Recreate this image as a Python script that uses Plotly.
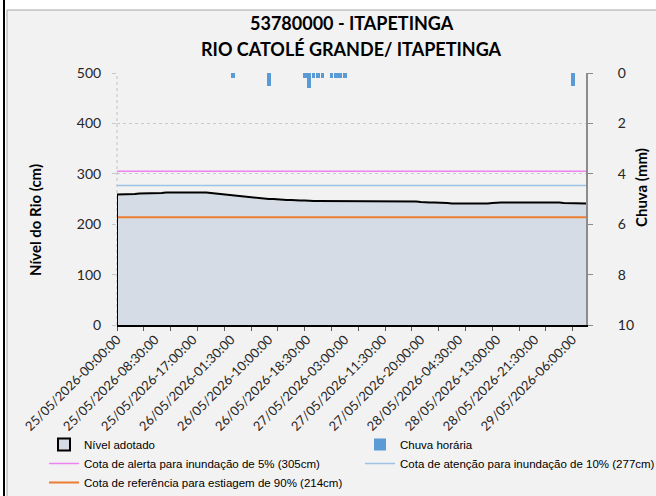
import plotly.graph_objects as go
import pandas as pd

# ---------------- data ----------------
t_start = "2026-05-25 00:00"

# hourly river level (cm) from 25/05 00:00
level_cm = [
    259, 259, 260, 260, 260, 261,
    261, 261, 262, 262, 262, 263,
    263, 263, 264, 264, 264, 264,
    264, 263, 263, 262, 261, 260,
    259, 258, 257, 256, 255, 254,
    253, 252, 251, 251, 250, 250,
    249, 249, 248, 248, 247, 247,
    247, 246, 246, 246, 246, 246,
    245, 245, 245, 245, 245, 245,
    245, 245, 245, 246, 246, 246,
    246, 246, 246, 246, 246, 246,
    245, 245, 244, 243, 243, 243,
    243, 242, 242, 241, 241, 240,
    240, 240, 240, 240, 240, 241,
    242, 243, 243, 243, 243, 243,
    243, 243, 243, 244, 244, 244,
    244, 244, 244, 243, 242, 242,
    241, 241, 241, 241,
]

rain_times = [
    "2026-05-26 02:00", "2026-05-26 10:00",
    "2026-05-26 18:00", "2026-05-26 19:00", "2026-05-26 20:00",
    "2026-05-26 21:00", "2026-05-26 22:00",
    "2026-05-27 00:00", "2026-05-27 01:00", "2026-05-27 02:00",
    "2026-05-27 03:00", "2026-05-29 06:00",
]
rain_mm = [0.2, 0.5, 0.2, 0.6, 0.2, 0.2, 0.2, 0.2, 0.2, 0.2, 0.2, 0.5]

alert_cm = 305
attention_cm = 277
drought_cm = 214

level_name = "Nível adotado"
rain_name = "Chuva horária"
alert_name = "Cota de alerta para inundação de 5% (305cm)"
attention_name = "Cota de atenção para inundação de 10% (277cm)"
drought_name = "Cota de referência para estiagem de 90% (214cm)"

title_1 = "53780000 - ITAPETINGA"
title_2 = "RIO CATOLÉ GRANDE/ ITAPETINGA"
y_title = "Nível do Rio (cm)"
y2_title = "Chuva (mm)"

label_times = pd.date_range(t_start, periods=13, freq="510min")
tick_text = [t.strftime("%d/%m/%Y-%H:%M:%S") for t in label_times]
level_times = pd.date_range(t_start, periods=len(level_cm), freq="h")

# ---------------- layout helpers ----------------
W, H = 656, 496
L, R, T, B = 117, 70, 73, 171
PW, PH = W - L - R, H - T - B


def px2x(px):
    return (px - L) / PW


def py2y(py):
    return (H - B - py) / PH


fig = go.Figure()

fig.add_trace(go.Scatter(
    x=level_times, y=level_cm, mode="lines", name=level_name,
    fill="tozeroy", fillcolor="#d6dce5",
    line=dict(color="black", width=2), showlegend=False,
))
# legend entry for the level area (box symbol)
fig.add_trace(go.Bar(
    x=[None], y=[None], name=level_name,
    marker=dict(color="#d6dce5", line=dict(color="black", width=2)),
    legend="legend",
))
fig.add_trace(go.Bar(
    x=pd.to_datetime(rain_times), y=rain_mm, name=rain_name, yaxis="y2",
    marker=dict(color="#5b9bd5", line=dict(width=0)),
    width=0.85 * 3600000, legend="legend2",
))
fig.add_trace(go.Scatter(
    x=[level_times[0], level_times[-1]], y=[alert_cm, alert_cm],
    mode="lines", name=alert_name, line=dict(color="#ee82ee", width=1.5),
    legend="legend",
))
fig.add_trace(go.Scatter(
    x=[level_times[0], level_times[-1]], y=[attention_cm, attention_cm],
    mode="lines", name=attention_name, line=dict(color="#9dc3e6", width=1.5),
    legend="legend2",
))
fig.add_trace(go.Scatter(
    x=[level_times[0], level_times[-1]], y=[drought_cm, drought_cm],
    mode="lines", name=drought_name, line=dict(color="#ed7d31", width=2),
    legend="legend",
))

shapes = [
    dict(type="rect", xref="paper", yref="paper",
         x0=px2x(7), x1=px2x(W + 20), y0=py2y(H + 20), y1=py2y(10),
         fillcolor="#f2f2f2", line=dict(color="#a6a6a6", width=1), layer="below"),
    dict(type="line", xref="paper", yref="paper",
         x0=px2x(4), x1=px2x(4), y0=py2y(H + 5), y1=py2y(-5),
         line=dict(color="black", width=2)),
    dict(type="line", xref="paper", yref="paper", x0=0, x1=0, y0=0, y1=1,
         line=dict(color="#bfbfbf", width=1, dash="dot")),
    dict(type="line", xref="x", yref="y",
         x0=level_times[0], x1=level_times[0], y0=0, y1=level_cm[0],
         line=dict(color="black", width=2)),
]

font_main = "Lato, 'Open Sans', sans-serif"
font_leg = "'Liberation Sans', Arial, sans-serif"

annotations = [
    dict(text="<b>" + title_1 + "</b>", xref="paper", yref="paper",
         x=0.5, y=py2y(23), showarrow=False, xanchor="center", yanchor="middle",
         font=dict(family=font_main, size=18, color="black")),
    dict(text="<b>" + title_2 + "</b>", xref="paper", yref="paper",
         x=0.5, y=py2y(49), showarrow=False, xanchor="center", yanchor="middle",
         font=dict(family=font_main, size=18, color="black")),
    dict(text="<b>" + y_title + "</b>", xref="paper", yref="paper",
         x=px2x(35), y=py2y(220), showarrow=False, textangle=-90,
         xanchor="center", yanchor="middle",
         font=dict(family=font_main, size=15, color="black")),
    dict(text="<b>" + y2_title + "</b>", xref="paper", yref="paper",
         x=px2x(641), y=py2y(188), showarrow=False, textangle=-90,
         xanchor="center", yanchor="middle",
         font=dict(family=font_main, size=15, color="black")),
]

fig.update_layout(
    width=W, height=H,
    margin=dict(l=L, r=R, t=T, b=B, autoexpand=False),
    paper_bgcolor="white", plot_bgcolor="white",
    shapes=shapes, annotations=annotations,
    bargap=0, showlegend=True,
    xaxis=dict(
        type="date",
        range=[level_times[0], level_times[-1]],
        tickmode="array", tickvals=label_times, ticktext=tick_text,
        tickangle=-45, ticks="", showgrid=False, zeroline=False,
        showline=True, linecolor="black", linewidth=2,
        tickfont=dict(family=font_main, size=13, color="#262626"),
        minor=dict(ticks="outside", ticklen=4, tickcolor="#595959",
                   tickwidth=1, dtick=6 * 3600000, tick0=t_start, showgrid=False),
    ),
    yaxis=dict(
        range=[0, 500], tickmode="linear", tick0=0, dtick=100,
        showgrid=True, gridcolor="#c8c8c8", griddash="dot", gridwidth=1,
        zeroline=False, showline=False,
        ticks="outside", ticklen=4, tickcolor="#c8c8c8",
        ticklabelstandoff=8,
        tickfont=dict(family=font_main, size=14, color="#262626"),
    ),
    yaxis2=dict(
        overlaying="y", side="right", range=[10, 0],
        tickmode="linear", tick0=0, dtick=2,
        showgrid=False, zeroline=False,
        showline=True, linecolor="#8c8c8c", linewidth=2,
        ticks="outside", ticklen=5, tickcolor="#8c8c8c",
        ticklabelstandoff=22,
        tickfont=dict(family=font_main, size=14, color="#262626"),
    ),
    legend=dict(
        x=px2x(44), y=py2y(430), xanchor="left", yanchor="top",
        orientation="v", bgcolor="rgba(0,0,0,0)", tracegroupgap=0,
        font=dict(family=font_leg, size=11.5, color="black"),
    ),
    legend2=dict(
        x=px2x(360), y=py2y(430), xanchor="left", yanchor="top",
        orientation="v", bgcolor="rgba(0,0,0,0)", tracegroupgap=0,
        font=dict(family=font_leg, size=11.5, color="black"),
    ),
)

fig.write_html(
    "out.html",
    config={"displayModeBar": False},
    post_script="document.body.style.margin='0';document.body.style.overflow='hidden';",
)
